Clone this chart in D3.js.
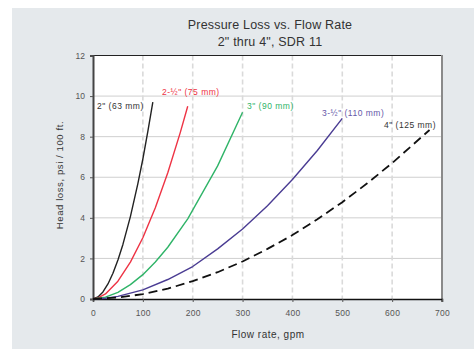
<!DOCTYPE html>
<html>
<head>
<meta charset="utf-8">
<script src="https://cdn.jsdelivr.net/npm/d3@7"></script>
<style>
  html, body { margin: 0; padding: 0; background: #fff; }
  svg { display: block; font-family: "Liberation Sans", Arial, sans-serif; }
</style>
</head>
<body>
<svg id="chart" width="474" height="349"></svg>
<script>
// Head loss (psi / 100 ft) against flow rate (gpm), SDR 11 pipe
const flow2 = [0, 10, 20, 30, 40, 50, 60, 75, 90, 100, 110, 120];
const loss2 = [0, 0.10, 0.35, 0.74, 1.27, 1.92, 2.69, 4.06, 5.69, 6.90, 8.26, 9.70];

const flow25 = [0, 10, 25, 50, 75, 100, 125, 150, 175, 190];
const loss25 = [0, 0.05, 0.25, 0.88, 1.82, 3.02, 4.50, 6.22, 8.20, 9.50];

const flow3 = [0, 25, 50, 75, 100, 125, 150, 190, 250, 300];
const loss3 = [0, 0.09, 0.33, 0.71, 1.20, 1.82, 2.55, 3.95, 6.56, 9.20];

const flow35 = [0, 25, 50, 100, 150, 200, 250, 300, 350, 400, 450, 500];
const loss35 = [0, 0.04, 0.13, 0.45, 0.96, 1.60, 2.47, 3.45, 4.60, 5.89, 7.32, 8.90];

const flow4 = [0, 50, 100, 150, 200, 250, 300, 350, 400, 450, 500, 550, 600, 675];
const loss4 = [0, 0.07, 0.24, 0.51, 0.88, 1.32, 1.85, 2.47, 3.15, 3.93, 4.77, 5.70, 6.70, 8.33];

const seriesNames = ['2" (63 mm)', '2-½" (75 mm)', '3" (90 mm)', '3-½" (110 mm)', '4" (125 mm)'];

const xTicks = [0, 100, 200, 300, 400, 500, 600, 700];
const yTicks = [0, 2, 4, 6, 8, 10, 12];

const titleLines = ['Pressure Loss vs. Flow Rate', '2" thru 4", SDR 11'];
const xTitle = 'Flow rate, gpm';
const yTitle = 'Head loss, psi / 100 ft.';

const svg = d3.select('#chart');
const W = 474, H = 349;
const m = { left: 93, right: 442, top: 55.5, bottom: 299 };
const FONT = '"Liberation Sans", Arial, sans-serif';

// panel background
svg.append('rect').attr('x', 12).attr('y', 8).attr('width', W - 12).attr('height', H - 8)
  .attr('fill', '#e5e9ec');

const x = d3.scaleLinear().domain([0, 700]).range([m.left, m.right]);
const y = d3.scaleLinear().domain([0, 12]).range([m.bottom, m.top]);

// plot area
svg.append('rect').attr('x', m.left).attr('y', m.top)
  .attr('width', m.right - m.left).attr('height', m.bottom - m.top).attr('fill', '#fff');

// horizontal gridlines
svg.append('g').selectAll('line').data(yTicks.filter(d => d > 0 && d < 12)).join('line')
  .attr('x1', m.left).attr('x2', m.right)
  .attr('y1', d => y(d)).attr('y2', d => y(d))
  .attr('stroke', '#cfcfcf').attr('stroke-width', 1);

// vertical dashed gridlines
svg.append('g').selectAll('line').data(xTicks.filter(d => d > 0 && d < 700)).join('line')
  .attr('x1', d => x(d)).attr('x2', d => x(d))
  .attr('y1', m.top).attr('y2', m.bottom)
  .attr('stroke', '#dadada').attr('stroke-width', 1.6)
  .attr('stroke-dasharray', '5,3');

// frame
svg.append('line').attr('x1', m.left).attr('x2', m.right).attr('y1', m.top).attr('y2', m.top)
  .attr('stroke', '#222').attr('stroke-width', 1);
svg.append('line').attr('x1', m.right).attr('x2', m.right).attr('y1', m.top - 0.5).attr('y2', m.bottom + 3)
  .attr('stroke', '#8a8a8a').attr('stroke-width', 2);

// axes
const xAxis = d3.axisBottom(x).tickValues(xTicks).tickSize(3).tickPadding(8);
const gx = svg.append('g').attr('transform', `translate(0,${m.bottom})`).call(xAxis);
gx.select('.domain').attr('stroke', '#111').attr('stroke-width', 1.5);
gx.selectAll('.tick line').attr('stroke', '#555');
gx.selectAll('text').attr('fill', '#555').attr('font-size', 8.5)
  .attr('letter-spacing', 0.3).attr('font-family', FONT);

const yAxis = d3.axisLeft(y).tickValues(yTicks).tickSize(3).tickPadding(5);
const gy = svg.append('g').attr('transform', `translate(${m.left},0)`).call(yAxis);
gy.select('.domain').attr('stroke', '#444').attr('stroke-width', 2);
gy.selectAll('.tick line').attr('stroke', '#555');
gy.selectAll('text').attr('fill', '#555').attr('font-size', 8.5)
  .attr('font-family', FONT);

// series
const series = [
  { name: seriesNames[0], flow: flow2, loss: loss2, color: '#222222', dash: null, label: '#333333', lx: 97, ly: 109 },
  { name: seriesNames[1], flow: flow25, loss: loss25, color: '#ee3344', dash: null, label: '#ee3344', lx: 162, ly: 95 },
  { name: seriesNames[2], flow: flow3, loss: loss3, color: '#2fb468', dash: null, label: '#2fb468', lx: 247, ly: 109 },
  { name: seriesNames[3], flow: flow35, loss: loss35, color: '#4a3c93', dash: null, label: '#6558a8', lx: 322, ly: 115.5 },
  { name: seriesNames[4], flow: flow4, loss: loss4, color: '#111111', dash: '9,5', label: '#333333', lx: 384, ly: 128 }
];

const line = d3.line().x(d => x(d[0])).y(d => y(d[1]));

const gs = svg.append('g');
series.forEach(s => {
  const pts = s.flow.map((f, i) => [f, s.loss[i]]);
  gs.append('path').datum(pts)
    .attr('d', line)
    .attr('fill', 'none')
    .attr('stroke', s.color)
    .attr('stroke-width', s.dash ? 1.8 : 1.4)
    .attr('stroke-linejoin', 'round')
    .attr('stroke-dasharray', s.dash);
  gs.append('text').attr('x', s.lx).attr('y', s.ly)
    .attr('text-anchor', 'start')
    .attr('font-size', 8.5).attr('letter-spacing', 0.5).attr('fill', s.label)
    .text(s.name);
});

// titles
svg.append('g').selectAll('text').data(titleLines).join('text')
  .attr('x', 270).attr('y', (d, i) => 29 + i * 16.5)
  .attr('text-anchor', 'middle').attr('font-size', 12.5).attr('fill', '#333')
  .attr('letter-spacing', 0.2)
  .text(d => d);

svg.append('text').attr('x', 268).attr('y', 337.5)
  .attr('text-anchor', 'middle').attr('font-size', 10).attr('fill', '#333')
  .attr('letter-spacing', 0.5)
  .text(xTitle);

svg.append('text').attr('transform', 'translate(63,175) rotate(-90)')
  .attr('text-anchor', 'middle').attr('font-size', 9.5).attr('fill', '#333')
  .attr('letter-spacing', 0.6)
  .text(yTitle);
</script>
</body>
</html>
